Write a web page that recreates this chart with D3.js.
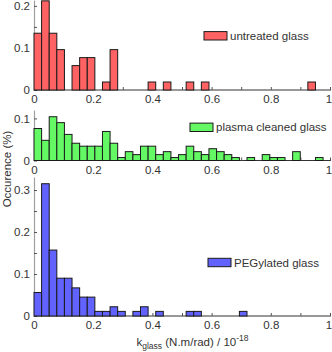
<!DOCTYPE html>
<html>
<head>
<meta charset="utf-8">
<script src="https://cdn.jsdelivr.net/npm/d3@7"></script>
<style>
    body { margin: 0; background: #fff; }
    svg text { font-family: "Liberation Sans", Arial, sans-serif; fill: #333; }
</style>
</head>
<body>
<svg id="chart" width="332" height="352"></svg>
<script>
/**
 * Data: occurrence per bin, bins start at 0 with constant width.
 */
const binWidth = 0.0257;
const untreated = [0.135, 0.212, 0.135, 0.096, 0, 0.058, 0.077, 0.077, 0, 0.019, 0.096,
    0, 0, 0, 0, 0.019, 0, 0.019, 0, 0, 0.019, 0, 0.019,
    0, 0, 0, 0, 0, 0, 0, 0, 0, 0, 0, 0, 0, 0.019];
const plasma = [0.076, 0.048, 0.104, 0.090, 0.062, 0.041, 0.034, 0.034, 0.034, 0.069, 0.041,
    0.007, 0.021, 0.014, 0.034, 0.034, 0.014, 0.021, 0.007, 0.014, 0.034, 0.021, 0.014,
    0.028, 0.021, 0.014, 0.007, 0, 0.007, 0, 0.014, 0.007, 0.007, 0, 0.021, 0, 0, 0.007];
const pegylated = [0.056, 0.315, 0.157, 0.090, 0.090, 0.067, 0.045, 0.045, 0.011, 0.011, 0.022,
    0.011, 0, 0.011, 0.022, 0, 0.011, 0, 0, 0, 0.011, 0.011, 0, 0, 0, 0, 0, 0.011];
const seriesNames = ['untreated glass', 'plasma cleaned glass', 'PEGylated glass'];
const seriesColors = ['#ff6262', '#64f864', '#6262ff'];
const xLabelTicks = [0, 0.2, 0.4, 0.6, 0.8, 1];
const yMax = [0.214, 0.12, 0.331];

/**
 * Layout of the three stacked panels.
 */
const left = 34, right = 330;
const panels = [
    { values: untreated, base: 90, top: 0, legend: [204, 35.8] },
    { values: plasma, base: 160.5, top: 110, legend: [190, 127.3] },
    { values: pegylated, base: 316, top: 177, legend: [208, 262.5] }
];

const svg = d3.select('#chart');
const x = d3.scaleLinear().domain([0, 1]).range([left, right]);

panels.forEach((p, k) => {
    const y = d3.scaleLinear().domain([0, yMax[k]]).range([p.base, p.top]);
    const g = svg.append('g').attr('class', 'panel');

    // y axis, gray line with inward ticks
    const yTicks = d3.range(0, yMax[k] + 1e-9, 0.05);
    const yAxis = d3.axisLeft(y).tickValues(yTicks).tickSize(-3).tickSizeOuter(0).tickPadding(4)
        .tickFormat(d => Math.abs(d * 10 - Math.round(d * 10)) < 1e-6 ? (d === 0 ? '0' : d3.format('.1f')(d)) : '');
    const ya = g.append('g').attr('transform', 'translate(' + left + ',0)').call(yAxis);
    ya.select('.domain').attr('stroke', '#a0a0a0').attr('stroke-width', 1.2);
    ya.selectAll('.tick line').attr('stroke', '#555');
    ya.selectAll('text').style('font-size', '11.5px').attr('fill', '#333');

    // x axis, ticks every 0.1 pointing up
    const xAxis = d3.axisBottom(x).tickValues(d3.range(0, 1.0001, 0.1)).tickSize(-3).tickSizeOuter(0).tickPadding(5)
        .tickFormat(d => {
            const r = Math.round(d * 10) / 10;
            return xLabelTicks.includes(r) ? (r === 0 ? '0' : r === 1 ? '1' : d3.format('.1f')(r)) : '';
        });
    const xa = g.append('g').attr('transform', 'translate(0,' + p.base + ')').call(xAxis);
    xa.select('.domain').attr('stroke', '#333').attr('d', 'M' + left + ',0H331');
    xa.selectAll('.tick line').attr('stroke', '#555');
    xa.selectAll('text').style('font-size', '11.5px').attr('fill', '#333')
        .attr('dx', d => Math.round(d * 10) === 10 ? -1.5 : 0);

    // Bars
    g.append('g').selectAll('rect')
        .data(p.values.map((v, i) => ({ x0: i * binWidth, x1: (i + 1) * binWidth, v: v })).filter(d => d.v > 0))
        .enter().append('rect')
            .attr('x', d => x(d.x0))
            .attr('width', d => x(d.x1) - x(d.x0))
            .attr('y', d => y(d.v))
            .attr('height', d => y(0) - y(d.v))
            .attr('fill', seriesColors[k])
            .attr('stroke', '#1a1a1a')
            .attr('stroke-width', 1);

    // Legend
    const lg = g.append('g').attr('transform', 'translate(' + p.legend[0] + ',' + p.legend[1] + ')');
    lg.append('rect')
        .attr('x', 0).attr('y', -4.2).attr('width', 23).attr('height', 8.4)
        .attr('fill', seriesColors[k]).attr('stroke', '#1a1a1a');
    lg.append('text')
        .attr('x', 26).attr('dy', '0.36em')
        .style('font-size', '11.5px')
        .text(seriesNames[k]);
});

// x-axis title
const xt = svg.append('text')
    .attr('x', 192.5).attr('y', 346)
    .attr('text-anchor', 'middle')
    .style('font-size', '11.5px');
xt.append('tspan').text('k');
xt.append('tspan').attr('dy', 3).style('font-size', '8.5px').text('glass');
xt.append('tspan').attr('dy', -3).text(' (N.m/rad) / 10');
xt.append('tspan').attr('dy', -5).style('font-size', '8.5px').text('-18');

// y-axis title
svg.append('text')
    .attr('transform', 'translate(11,169) rotate(-90)')
    .attr('text-anchor', 'middle')
    .style('font-size', '11.5px')
    .text('Occurence (%)');
</script>
</body>
</html>
